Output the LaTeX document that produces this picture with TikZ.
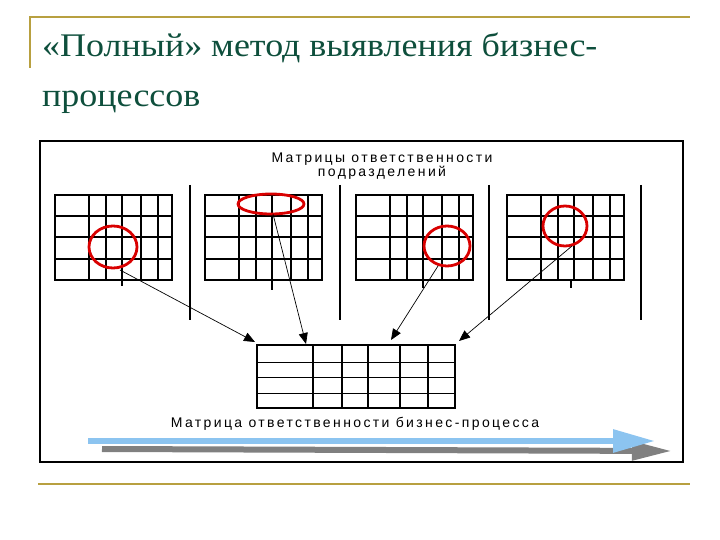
\documentclass[tikz,border=0pt]{standalone}
\usepackage{fontspec}
\setmainfont{Liberation Serif}
\newfontfamily\lsans[LetterSpace=17]{Liberation Sans}
\newfontfamily\lserif{Liberation Serif}
\usetikzlibrary{arrows.meta}
\definecolor{gold}{HTML}{B8A040}
\definecolor{ttl}{HTML}{0E4F3C}
\definecolor{lblue}{HTML}{8CC4F0}
\definecolor{dgray}{HTML}{808080}
\tikzset{
  thickline/.style={line width=2.6pt},
  redring/.style={draw=red!85!black,line width=2.8pt},
  conn/.style={line width=0.7pt,-{Triangle[length=11pt,width=9pt]}},
  lbl/.style={font=\lsans\fontsize{14}{14.5}\selectfont,align=center,inner sep=0pt},
  ttlstyle/.style={anchor=base west,text=ttl,inner sep=0pt,font=\lserif\fontsize{33}{36}\selectfont}
}
\newcommand{\mgrid}[1]{%
  \draw[thickline] (#1,195) rectangle ++(117,85);
  \foreach \c in {34,51,67,86,103}{\draw[thickline] (#1+\c,195) -- (#1+\c,280);}
  \foreach \r in {216,237,259}{\draw[thickline] (#1,\r) -- (#1+117,\r);}
}
\begin{document}
\begin{tikzpicture}[x=1pt,y=-1pt]
\useasboundingbox (0,0) rectangle (720,540);
\fill[white] (0,0) rectangle (720,540);
% gold rules
\draw[gold,line width=1.3pt] (30,68) -- (30,17) -- (690,17);
\draw[gold,line width=1.3pt] (38,484) -- (690,484);
% title
\node[ttlstyle,xscale=1.09] (t1) at (42,57) {«Полный» метод выявления бизнес-};
\node[ttlstyle,xscale=1.09] (t2) at (42,107) {процессов};
% frame
\draw[line width=1.6pt] (40,141) rectangle (683,462);
\node[lbl] (top) at (382,166) {Матрицы ответственности\\подразделений};
% separators
\foreach \x in {190,340,489,641}{\draw[thickline] (\x,185) -- (\x,320);}
% grids
\mgrid{55}\mgrid{205}\mgrid{356}\mgrid{507}
\draw[thickline] (122,280) -- (122,286);
\draw[thickline] (272,280) -- (272,290);
\draw[thickline] (423,280) -- (423,288);
\draw[thickline] (571,280) -- (571,288);
% red rings
\draw[redring] (113,247) ellipse (24 and 21);
\draw[redring] (271,204) ellipse (33 and 10);
\draw[redring] (447,246) ellipse (23 and 20);
\draw[redring] (565,226) ellipse (22 and 20);
% bottom grid
\draw[line width=2.4pt] (257,345) rectangle (455,408);
\foreach \x in {313,342,368,400,428}{\draw[line width=2pt] (\x,345) -- (\x,408);}
\foreach \y in {362,377,393}{\draw[line width=1pt] (257,\y) -- (455,\y);}
\node[lbl] (bot) at (355,424) {Матрица ответственности бизнес-процесса};
% connectors
\coordinate (s1) at (120,270); \coordinate (e1) at (255,342);
\coordinate (s2) at (273,214); \coordinate (e2) at (306,344);
\coordinate (s3) at (438,266); \coordinate (e3) at (391,340);
\coordinate (s4) at (572,246); \coordinate (e4) at (459,341);
\draw[conn] (s1) -- (e1);
\draw[conn] (s2) -- (e2);
\draw[conn] (s3) -- (e3);
\draw[conn] (s4) -- (e4);
% process arrows
\coordinate (g0) at (102,449); \coordinate (g1) at (672,451);
\draw[dgray,line width=6pt,-{Triangle[length=40pt,width=18pt]}] (g0) -- (g1);
\coordinate (b0) at (88,441); \coordinate (b1) at (655,441);
\draw[lblue,line width=6pt,-{Triangle[length=42pt,width=22pt]}] (b0) -- (b1);
\end{tikzpicture}
\end{document}
